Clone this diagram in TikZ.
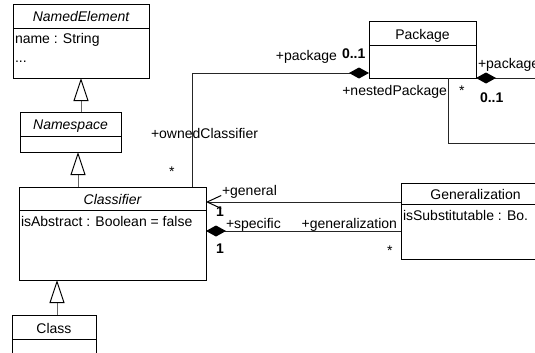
\documentclass[tikz,border=0pt]{standalone}
\usepackage{fontspec}
\setmainfont{Liberation Sans}
\usetikzlibrary{arrows.meta}
\begin{document}
\begin{tikzpicture}[x=1pt,y=-1pt,
  every node/.style={font=\fontsize{14}{16}\selectfont, inner sep=0pt, outer sep=0pt},
  box/.style={draw=black, line width=1pt, anchor=north west, inner sep=0pt, fill=white},
  sepline/.style={draw=black, line width=1pt},
  ttl/.style={anchor=base},
  attr/.style={anchor=base west},
  lblL/.style={anchor=base west},
  lblR/.style={anchor=base east},
  mult/.style={anchor=base west, font=\fontsize{14}{16}\selectfont\bfseries},
  assoc/.style={draw=black!85, line width=1pt},
  genl/.style={draw=black!60, line width=1pt,
    -{Triangle[open, length=23pt, width=15pt, color=black, line width=1pt]}},
  compo/.style={{Diamond[length=20pt, width=11pt, fill=black, color=black]}-},
  navi/.style={{Straight Barb[length=14pt, width=13pt, color=black, line width=1pt]}-}
]
\useasboundingbox (0,0) rectangle (535,353);
\clip (0,0) rectangle (535,353);

% ---------- classes ----------
\node[box, minimum width=136pt, minimum height=73pt] (ne) at (13,5) {};
\draw[sepline] (ne.west |- 0,29) -- (ne.east |- 0,29);
\node[ttl] (neT) at (81,21.5) {\itshape NamedElement};
\node[attr] (neA) at (15,44) {name : String};
\node[attr] (neB) at (15,63) {...};

\node[box, minimum width=101pt, minimum height=40pt] (ns) at (20,112) {};
\draw[sepline] (ns.west |- 0,136) -- (ns.east |- 0,136);
\node[ttl] (nsT) at (70.5,129) {\itshape Namespace};

\node[box, minimum width=187pt, minimum height=93pt] (cl) at (19,187) {};
\draw[sepline] (cl.west |- 0,210) -- (cl.east |- 0,210);
\node[ttl] (clT) at (112.5,204) {\itshape Classifier};
\node[attr] (clA) at (21,226) {isAbstract : Boolean = false};

\node[box, minimum width=84pt, minimum height=60pt] (cs) at (12,315) {};
\draw[sepline] (cs.west |- 0,339) -- (cs.east |- 0,339);
\node[ttl] (csT) at (54,333) {Class};

\node[box, minimum width=107pt, minimum height=56pt] (pk) at (369,22) {};
\draw[sepline] (pk.west |- 0,46) -- (pk.east |- 0,46);
\node[ttl] (pkT) at (422.5,40) {Package};

\node[box, minimum width=149pt, minimum height=76pt] (gz) at (401,183) {};
\draw[sepline] (gz.west |- 0,204) -- (gz.east |- 0,204);
\node[ttl] (gzT) at (475.5,199) {Generalization};
\node[attr] (gzA) at (403,220) {isSubstitutable : Bo.};

% ---------- helper coordinates ----------
\coordinate (x81) at (81,0);
\coordinate (x78) at (78,0);
\coordinate (x57) at (57,0);
\coordinate (x192) at (192,0);
\coordinate (x448) at (448,0);
\coordinate (y73) at (0,73);
\coordinate (y202) at (0,202);
\coordinate (y231) at (0,231);
\coordinate (bendA) at (192,73);
\coordinate (bendB) at (448,143);
\coordinate (offA) at (560,78);
\coordinate (offB) at (560,143);

% ---------- generalizations ----------
\draw[genl] (ns.north -| x81) -- (ne.south -| x81);
\draw[genl] (cl.north -| x78) -- (ns.south -| x78);
\draw[genl] (cs.north -| x57) -- (cl.south -| x57);

% ---------- associations ----------
\draw[assoc, compo] (pk.west |- y73) -- (bendA) -- (cl.north -| x192);
\draw[assoc, compo] (pk.south east) -- (offA);
\draw[assoc] (pk.south -| x448) -- (bendB) -- (offB);
\draw[assoc, navi] (cl.east |- y202) -- (gz.west |- y202);
\draw[assoc, compo] (cl.east |- y231) -- (gz.west |- y231);

% ---------- labels ----------
\node[lblR] (l1) at (337,60) {+package};
\node[mult] (l2) at (342,59) {0..1};
\node[lblL] (l3) at (151,138) {+ownedClassifier};
\node[lblL] (l4) at (169,176) {*};
\node[lblR] (l5) at (447,95) {+nestedPackage};
\node[lblL] (l6) at (459,95) {*};
\node[lblL] (l7) at (478,69) {+package};
\node[mult] (l8) at (480,102) {0..1};
\node[lblL] (l9) at (222,195) {+general};
\node[mult] (l10) at (216,216) {1};
\node[lblL] (l11) at (226,228) {+specific};
\node[lblR] (l12) at (397,228) {+generalization};
\node[mult] (l13) at (216,253) {1};
\node[lblL] (l14) at (387,255) {*};
\end{tikzpicture}
\end{document}
